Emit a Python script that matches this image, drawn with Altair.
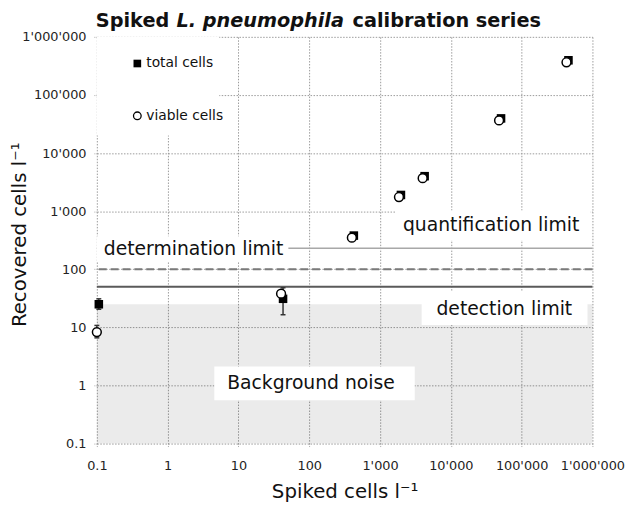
import altair as alt
import pandas as pd

# ---- data ----
spiked = [0.1, 40, 400, 1850, 4000, 48000, 430000]
total_cells = [25, 31, 380, 1900, 4000, 39500, 395000]
viable_cells = [8.3, 38, 350, 1750, 3700, 36500, 365000]

err_total_x = [0.1, 40]
err_total_lo = [20.5, 16.5]
err_total_hi = [31, 48]
err_viable_x = [0.1]
err_viable_lo = [6.6]
err_viable_hi = [10.8]

limit_names = ["detection limit", "determination limit", "quantification limit"]
limit_values = [50, 100, 230]
noise_range = [0.1, 25]
x_extent = [0.1, 1000000]
y_extent = [0.1, 1000000]
tick_values = [0.1, 1, 10, 100, 1000, 10000, 100000, 1000000]

FONT = "DejaVu Sans"
label_expr = "replace(replace(format(datum.value, ','), ',', \"'\"), ',', \"'\")"

xscale = alt.Scale(type="log", domain=x_extent, nice=False)
yscale = alt.Scale(type="log", domain=y_extent, nice=False)

axis_common = dict(
    values=tick_values, labelExpr=label_expr, grid=True, gridColor="#9a9a9a",
    gridDash=[1.5, 1.5], gridWidth=1, domain=False, tickColor="#aaaaaa",
    tickSize=4, tickDash=[1, 1], labelFont=FONT, labelFontSize=13,
    labelColor="#222222", titleFont=FONT, titleFontSize=20,
    titleFontWeight="normal", titleColor="#111111", labelFlush=False,
    labelOverlap=False,
)
xaxis = alt.Axis(title="Spiked cells l⁻¹", titleY=49, titleBaseline="middle",
                 labelPadding=12, **axis_common)
yaxis = alt.Axis(title="Recovered cells l⁻¹", titleX=-78, titleY=200,
                 titleBaseline="middle", labelPadding=7, **axis_common)


def X(field):
    return alt.X(field, type="quantitative", scale=xscale, axis=xaxis)


def Y(field):
    return alt.Y(field, type="quantitative", scale=yscale, axis=yaxis)


def one():
    return alt.Data(values=[{"k": 1}])


layers = []

# background noise band
noise_df = pd.DataFrame({"x0": [x_extent[0]], "x1": [x_extent[1]],
                         "y0": [noise_range[0]], "y1": [noise_range[1]]})
layers.append(alt.Chart(noise_df).mark_rect(color="#000000", opacity=0.08).encode(
    x=X("x0"), x2="x1", y=Y("y0"), y2="y1"))

# limit lines
limit_styles = [
    dict(color="#5a5a5a", strokeWidth=2),
    dict(color="#7a7a7a", strokeWidth=2, strokeDash=[8, 4]),
    dict(color="#a8a8a8", strokeWidth=1.6),
]
for name, val, st in zip(limit_names, limit_values, limit_styles):
    df = pd.DataFrame({"name": [name], "v": [val]})
    layers.append(alt.Chart(df).mark_rule(**st).encode(y=Y("v")))

# white boxes behind labels and legend (pixel positions relative to plot)
boxes = [
    (0, 124, 0, 100),      # legend
    (0, 194, 202, 228),    # determination limit
    (302, 500, 176, 206),  # quantification limit
    (329, 497, 258, 292),  # detection limit
    (119, 322, 334, 368),  # background noise
]
for x0, x1, y0, y1 in boxes:
    layers.append(alt.Chart(one()).mark_rect(color="white").encode(
        x=alt.value(x0), x2=alt.value(x1), y=alt.value(y0), y2=alt.value(y1)))

# annotation texts
annos = [
    ("determination limit", 7, 215),
    ("quantification limit", 310, 191),
    ("detection limit", 344, 276),
    ("Background noise", 132, 351),
]
for txt, x, y in annos:
    layers.append(alt.Chart(one()).mark_text(
        text=txt, font=FONT, fontSize=19, align="left", baseline="middle",
        color="#111111").encode(x=alt.value(x), y=alt.value(y)))

# error bars with small caps
et = pd.DataFrame({"x": err_total_x, "lo": err_total_lo, "hi": err_total_hi})
ev = pd.DataFrame({"x": err_viable_x, "lo": err_viable_lo, "hi": err_viable_hi})
for df, off in [(et, 2), (ev, 0)]:
    layers.append(alt.Chart(df).mark_rule(color="#333333", strokeWidth=1.5, xOffset=off).encode(
        x=X("x"), y=Y("lo"), y2="hi"))
    for end in ["lo", "hi"]:
        layers.append(alt.Chart(df).mark_point(
            shape="stroke", size=25, stroke="#333333", strokeWidth=1.5, opacity=1,
            xOffset=off).encode(x=X("x"), y=Y(end)))

# points
pts = pd.DataFrame({"spiked": spiked, "total": total_cells, "viable": viable_cells})
layers.append(alt.Chart(pts).mark_point(
    shape="square", filled=True, color="black", size=75, opacity=1, xOffset=2).encode(
    x=X("spiked"), y=Y("total")))
layers.append(alt.Chart(pts).mark_point(
    shape="circle", filled=True, fill="white", stroke="black", strokeWidth=1.5,
    size=80, opacity=1).encode(x=X("spiked"), y=Y("viable")))

# legend
layers.append(alt.Chart(one()).mark_point(
    shape="square", filled=True, color="black", size=60, opacity=1).encode(
    x=alt.value(41), y=alt.value(27)))
layers.append(alt.Chart(one()).mark_point(
    shape="circle", filled=True, fill="white", stroke="black", strokeWidth=1.3,
    size=60, opacity=1).encode(x=alt.value(41), y=alt.value(80)))
for txt, x, y in [("total cells", 50, 27), ("viable cells", 50, 80)]:
    layers.append(alt.Chart(one()).mark_text(
        text=txt, font=FONT, fontSize=14, align="left", baseline="middle",
        color="#111111").encode(x=alt.value(x), y=alt.value(y)))

# title (mixed styles)
title_parts = [("Spiked ", -1, "normal"), ("L. pneumophila", 80.6, "italic"),
               ("calibration series", 259, "normal")]
for txt, x, style in title_parts:
    layers.append(alt.Chart(one()).mark_text(
        text=txt, font=FONT, fontSize=19.5, fontWeight="bold", fontStyle=style,
        align="left", baseline="alphabetic", color="#111111").encode(
        x=alt.value(x), y=alt.value(-10)))

chart = alt.layer(*layers).properties(
    width=502, height=412,
    padding={"left": 90, "top": 26, "right": 34, "bottom": 60},
    autosize=alt.AutoSizeParams(type="none"),
    background="white",
).configure_view(strokeWidth=0)

chart.save("out.html", embed_options={"renderer": "svg", "actions": False})
